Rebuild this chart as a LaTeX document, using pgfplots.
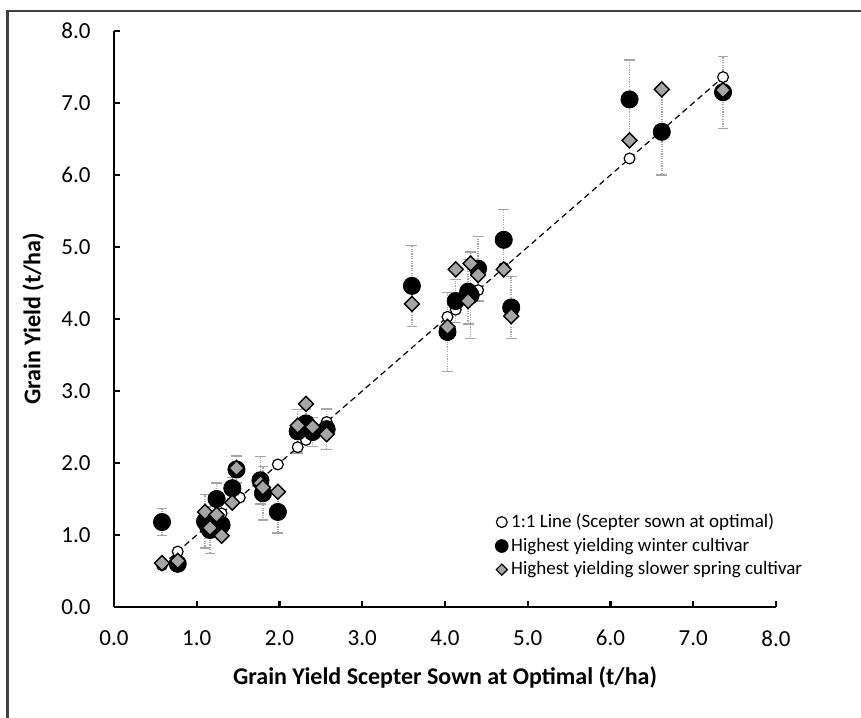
\documentclass[border=0pt]{standalone}
\usepackage{fontspec}
\setmainfont{Carlito}
\usepackage{pgfplots}
\usepackage{pgfplotstable}
\pgfplotsset{compat=1.18}

\definecolor{diamondgray}{RGB}{165,165,165}
\definecolor{errgray}{RGB}{165,165,165}
\definecolor{framegray}{RGB}{64,64,64}

% x = Scepter sown at optimal, w = winter cultivar (+ error), s = slower spring cultivar
\pgfplotstableread{
x     w     werr  s
0.58  1.18  0.19  0.61
0.77  0.60  0.00  0.64
1.10  1.19  0.37  1.32
1.16  1.07  0.33  1.10
1.24  1.50  0.22  1.28
1.30  1.14  0.20  0.99
1.43  1.65  0.15  1.45
1.48  1.91  0.19  1.93
1.77  1.76  0.33  1.72
1.80  1.58  0.37  1.66
1.98  1.32  0.29  1.60
2.22  2.44  0.30  2.52
2.32  2.55  0.20  2.82
2.40  2.43  0.20  2.50
2.57  2.47  0.28  2.40
3.60  4.46  0.56  4.21
4.03  3.82  0.55  3.89
4.13  4.25  0.30  4.69
4.28  4.38  0.45  4.25
4.31  4.33  0.60  4.77
4.40  4.70  0.45  4.61
4.71  5.10  0.42  4.69
4.80  4.16  0.43  4.04
6.23  7.05  0.55  6.48
6.62  6.60  0.60  7.19
7.36  7.15  0.50  7.18
}\sites

% Scepter points on the 1:1 line
\pgfplotstableread{
x     y
0.58  0.58
0.77  0.77
1.10  1.10
1.16  1.16
1.30  1.30
1.52  1.52
1.77  1.77
1.98  1.98
2.22  2.22
2.32  2.32
2.57  2.57
4.03  4.03
4.13  4.13
4.28  4.28
4.40  4.40
4.71  4.71
6.23  6.23
7.36  7.36
}\scepter

\begin{document}
\begin{tikzpicture}
\useasboundingbox (0pt,0pt) rectangle (430.5pt,358.5pt);
\draw[framegray, line width=1.4pt] (3.6pt,-30pt) -- (3.6pt,353pt) -- (460pt,353pt);
\begin{axis}[
  at={(57pt,55pt)}, anchor=south west,
  scale only axis, width=331pt, height=288pt,
  xmin=0, xmax=8, ymin=0, ymax=8,
  axis x line=bottom, axis y line=left,
  axis line style={-, black, line width=1.1pt},
  xtick={0,1,...,8}, ytick={0,1,...,8},
  tick align=inside, major tick length=3pt,
  tick style={black, line width=1.1pt},
  /pgf/number format/.cd, fixed, fixed zerofill, precision=1, assume math mode=true, /pgfplots/.cd,
  ticklabel style={font=\fontsize{11.5}{13}\selectfont},
  xticklabel style={yshift=-8.2pt},
  yticklabel style={xshift=-8.2pt},
  xlabel={Grain Yield Scepter Sown at Optimal (t/ha)},
  ylabel={Grain Yield (t/ha)},
  label style={font=\bfseries\fontsize{12}{14}\selectfont},
  xlabel style={at={(axis description cs:0.5,-0.1215)}, anchor=center},
  ylabel style={at={(axis description cs:-0.122,0.5)}, anchor=center},
  clip=false,
  legend style={draw=none, fill=none, at={(rel axis cs:0.5755,0.168)}, anchor=north west,
    font=\fontsize{9.5}{11}\selectfont, row sep=0.7pt, inner sep=0pt, nodes={inner sep=1.5pt}},
  legend cell align=left,
  legend image code/.code={\draw[#1] plot coordinates {(0pt,0pt)};},
]
% error bars of the winter cultivar
\addplot[forget plot, only marks, mark=none,
  error bars/.cd, y dir=both, y explicit,
  error bar style={errgray, line width=0.7pt, dash pattern=on 0.6pt off 0.6pt},
  error mark options={rotate=90, errgray, mark size=2.7pt, line width=0.7pt}]
  table[x=x, y=w, y error=werr] {\sites};
\addplot[forget plot, only marks, mark=*, mark size=2.7pt, mark options={fill=white, draw=black, line width=0.6pt}]
  table[x=x, y=y] {\scepter};
\addplot[forget plot, only marks, mark=*, mark size=4.3pt, mark options={fill=black, draw=black}]
  table[x=x, y=w] {\sites};
\addplot[forget plot, only marks, mark=square*, mark size=2.65pt, mark options={rotate=45, fill=diamondgray, draw=black, line width=0.7pt}]
  table[x=x, y=s] {\sites};
% dashed 1:1 trend line, drawn on top
\addplot[forget plot, black, line width=0.6pt, dash pattern=on 3pt off 2pt] table[x=x, y=y] {\scepter};

\addlegendimage{only marks, mark=*, mark size=2.7pt, mark options={fill=white, draw=black, line width=0.6pt}}
\addlegendentry{1:1 Line (Scepter sown at optimal)}
\addlegendimage{only marks, mark=*, mark size=3.2pt, mark options={fill=black, draw=black}}
\addlegendentry{Highest yielding winter cultivar}
\addlegendimage{only marks, mark=square*, mark size=1.95pt, mark options={rotate=45, fill=diamondgray, draw=black, line width=0.6pt}}
\addlegendentry{Highest yielding slower spring cultivar}
\end{axis}
\end{tikzpicture}
\end{document}
